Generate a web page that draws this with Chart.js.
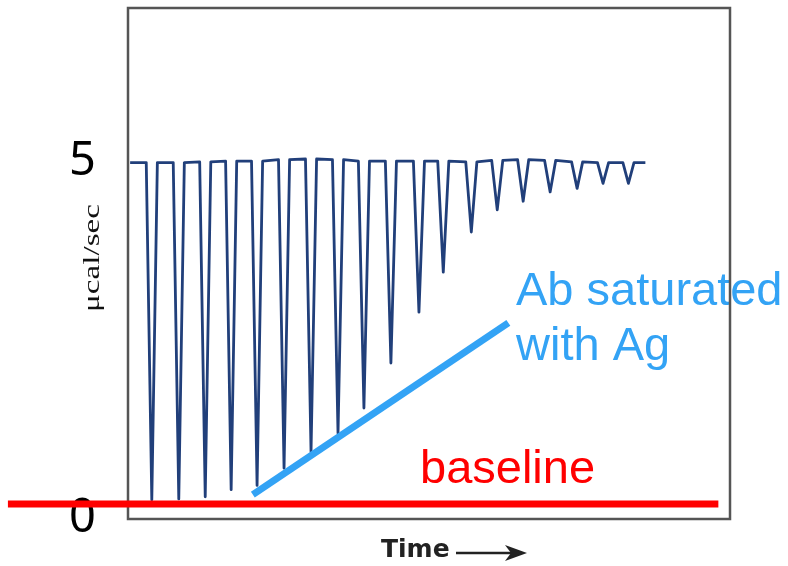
<!DOCTYPE html>
<html>
<head>
<meta charset="utf-8">
<script src="https://cdn.jsdelivr.net/npm/chart.js@4"></script>
<style>
  body { margin: 0; background: #fff; }
</style>
</head>
<body>
<canvas id="itc" width="788" height="566"></canvas>
<script>
// injection times (min) and the lowest point reached by each peak (ucal/sec)
const spikeTimes = [4.5, 9.6, 14.6, 19.5, 24.4, 29.5, 34.6, 39.7, 44.6, 49.7,
                    55.0, 59.6, 64.9, 69.8, 74.7, 79.8, 84.9, 89.8, 94.6];
const spikeMins = [0.27, 0.28, 0.31, 0.41, 0.47, 0.71, 0.94, 1.20, 1.55, 2.18,
                   2.89, 3.45, 4.01, 4.32, 4.44, 4.57, 4.62, 4.69, 4.69];
const topLevels = [4.98, 4.98, 4.99, 5.0, 5.0, 5.02, 5.03, 5.02, 5.0, 5.0,
                   5.0, 5.0, 4.99, 5.01, 5.02, 5.01, 4.99, 4.98, 4.98];
const traceStart = 0.4;
const traceEnd = 97.8;
const halfWidth = 1.05; // time from top of trace to bottom of a peak

const yTicks = [0, 5];
const baselineLevel = 0.21;
const baselineSpan = [-22.7, 111.6];
const saturationLine = [[23.6, 0.34], [71.9, 2.74]];

// build the trace from the peaks
const trace = [{ x: traceStart, y: topLevels[0] }];
spikeTimes.forEach((t, i) => {
    trace.push({ x: t - halfWidth, y: topLevels[i] });
    trace.push({ x: t, y: spikeMins[i] });
    trace.push({ x: t + halfWidth, y: topLevels[i] });
});
trace.push({ x: traceEnd, y: topLevels[topLevels.length - 1] });

const labelsPlugin = {
    id: "labels",
    beforeDatasetsDraw(chart) {
        const ctx = chart.ctx;
        const area = chart.chartArea;
        ctx.save();

        ctx.fillStyle = "#33a3f5";
        ctx.font = '47px "Liberation Sans", Arial, sans-serif';
        ctx.textBaseline = "alphabetic";
        ctx.textAlign = "left";
        ctx.fillText("Ab saturated", 516, 305);
        ctx.fillText("with Ag", 516, 360);

        ctx.fillStyle = "#ff0000";
        ctx.fillText("baseline", 420, 483);

        // y axis title, stretched like the original
        ctx.save();
        ctx.translate(93, 258);
        ctx.rotate(-Math.PI / 2);
        ctx.scale(1.38, 1);
        ctx.fillStyle = "#111";
        ctx.font = '24px "Liberation Serif", "Times New Roman", serif';
        ctx.textAlign = "center";
        ctx.textBaseline = "middle";
        ctx.fillText("\u03bccal/sec", 0, 0);
        ctx.restore();

        // Time ->
        ctx.fillStyle = "#222";
        ctx.font = 'bold 25px "DejaVu Sans", sans-serif';
        ctx.fillText("Time", 381, 557);
        ctx.strokeStyle = "#222";
        ctx.lineWidth = 2.5;
        ctx.beginPath();
        ctx.moveTo(456, 553);
        ctx.lineTo(512, 553);
        ctx.stroke();
        ctx.beginPath();
        ctx.moveTo(527, 553);
        ctx.lineTo(505, 545);
        ctx.lineTo(511, 553);
        ctx.lineTo(505, 561);
        ctx.closePath();
        ctx.fill();

        // frame round the plot
        ctx.strokeStyle = "#555";
        ctx.lineWidth = 2.5;
        ctx.strokeRect(area.left, area.top, area.right - area.left, area.bottom - area.top);
        ctx.restore();
    },
};

new Chart(document.getElementById("itc"), {
    type: "line",
    data: {
        datasets: [
            {
                label: "Ab saturated with Ag",
                data: saturationLine.map(p => ({ x: p[0], y: p[1] })),
                borderColor: "#33a3f5",
                borderWidth: 7,
                borderCapStyle: "butt",
                pointRadius: 0,
                clip: false,
                order: 0,
            },
            {
                label: "baseline",
                data: baselineSpan.map(x => ({ x: x, y: baselineLevel })),
                borderColor: "#ff0000",
                borderWidth: 7,
                borderCapStyle: "butt",
                pointRadius: 0,
                clip: false,
                order: 1,
            },
            {
                label: "ucal/sec",
                data: trace,
                borderColor: "#213f7a",
                borderWidth: 2.8,
                borderJoinStyle: "round",
                pointRadius: 0,
                tension: 0,
                clip: false,
                order: 2,
            },
        ],
    },
    options: {
        responsive: false,
        animation: false,
        layout: {
            padding: { top: 8, right: 58, left: 0, bottom: 0 },
        },
        plugins: {
            legend: { display: false },
            tooltip: { enabled: false },
        },
        scales: {
            x: {
                type: "linear",
                min: 0,
                max: 113.8,
                grid: { display: false, drawTicks: false },
                border: { display: false },
                ticks: { display: false },
                afterFit(scale) {
                    scale.height = 47;
                    scale.paddingLeft = 0;
                    scale.paddingRight = 0;
                },
            },
            y: {
                min: 0,
                max: 7.14,
                grid: { display: false, drawTicks: false },
                border: { display: false },
                afterBuildTicks(scale) {
                    scale.ticks = yTicks.map(v => ({ value: v }));
                },
                ticks: {
                    padding: 32,
                    color: "#000",
                    font: { family: '"Noto Sans", sans-serif', size: 47 },
                },
                afterFit(scale) {
                    scale.width = 128;
                    scale.paddingTop = 0;
                    scale.paddingBottom = 0;
                },
            },
        },
    },
    plugins: [labelsPlugin],
});
</script>
</body>
</html>
